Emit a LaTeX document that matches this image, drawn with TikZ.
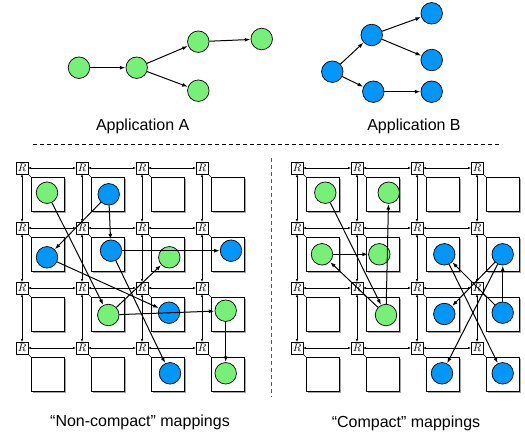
\documentclass[tikz,border=0pt]{standalone}
\usepackage{fontspec}
\setmainfont{Liberation Sans}
\usetikzlibrary{arrows.meta,shadows}
\definecolor{appgreen}{RGB}{118,240,118}
\definecolor{appblue}{RGB}{0,150,250}
\begin{document}
\begin{tikzpicture}[x=1pt,y=-1pt,
  task/.style={circle,draw=black,line width=0.7pt,minimum size=21.5pt,inner sep=0pt},
  ga/.style={task,fill=appgreen},
  gb/.style={task,fill=appblue},
  dep/.style={-{Latex[length=5.5pt,width=4pt]},line width=1pt,shorten >=0.3pt},
  router/.style={draw,fill=white,line width=0.5pt,minimum size=11.5pt,inner sep=0pt,
    font=\fontsize{11}{11}\selectfont,
    drop shadow={shadow xshift=1pt,shadow yshift=-1pt,fill=gray!70,opacity=1}},
  tile/.style={draw,fill=white,line width=0.6pt,minimum width=33pt,minimum height=34pt,inner sep=0pt,
    drop shadow={shadow xshift=1.8pt,shadow yshift=-1.8pt,fill=gray!70,opacity=1}},
  link/.style={{Latex[length=3pt,width=2.4pt]}-{Latex[length=3pt,width=2.4pt]},line width=0.5pt},
  caption/.style={font=\fontsize{16}{19}\selectfont},
  sep/.style={dashed,dash pattern=on 4pt off 3pt,line width=0.6pt}
]
\useasboundingbox (0,0) rectangle (525,439);

% ---- the two task graphs ----
\node[ga] (A1) at (79,67.7) {};
\node[ga] (A2) at (136.7,67.7) {};
\node[ga] (A3) at (198.3,41.7) {};
\node[ga] (A4) at (198.3,90.7) {};
\node[ga] (A5) at (261.7,39) {};
\draw[dep] (A1) -- (A2);
\draw[dep] (A2) -- (A3);
\draw[dep] (A2) -- (A4);
\draw[dep] (A3) -- (A5);

\node[gb] (B1) at (332.3,71.7) {};
\node[gb] (B2) at (371.7,35) {};
\node[gb] (B3) at (373.3,91.7) {};
\node[gb] (B4) at (431.7,13.3) {};
\node[gb] (B5) at (431.7,60) {};
\node[gb] (B6) at (431.7,91.7) {};
\draw[dep] (B1) -- (B2);
\draw[dep] (B1) -- (B3);
\draw[dep] (B2) -- (B4);
\draw[dep] (B2) -- (B5);
\draw[dep] (B3) -- (B6);

\node[caption] (capA) at (142.7,126) {Application A};
\node[caption] (capB) at (414,126) {Application B};

% ---- separators ----
\draw[sep] (33,144) -- (502,144);
\draw[sep,black!65] (271,158) -- (271,397);

% ---- 4x4 meshes of routers and tiles ----
\foreach \g/\xo in {L/22,C/297} {
  \foreach \c in {0,...,3} {
    \foreach \r in {0,...,3} {
      \node[tile] (\g T\c\r) at (\xo+60*\c+25.5,168+60*\r+26) {};
      \node[router] (\g R\c\r) at (\xo+60*\c,168+60*\r) {$R$};
      \draw[line width=0.5pt] (\g R\c\r.south east) -- (\g T\c\r.north west);
    }
  }
  \foreach \c [evaluate=\c as \nx using int(\c+1)] in {0,1,2} {
    \foreach \r in {0,...,3} {
      \draw[link] (\g R\c\r) -- (\g R\nx\r);
      \draw[link] (\g R\r\c) -- (\g R\r\nx);
    }
  }
}

% ---- non-compact placement ----
\node[ga] (La1) at (47,192.7) {};
\node[gb] (Lb1) at (108.7,194.3) {};
\node[gb] (Lb2) at (47,257.3) {};
\node[gb] (Lb3) at (111,250.7) {};
\node[ga] (La4) at (169.3,257.3) {};
\node[gb] (Lb6) at (231,250.7) {};
\node[ga] (La2) at (108.3,315) {};
\node[gb] (Lb4) at (169,312.7) {};
\node[ga] (La3) at (225.7,310.7) {};
\node[gb] (Lb5) at (170,373.3) {};
\node[ga] (La5) at (225.7,373.3) {};
\draw[dep] (La1) -- (La2);
\draw[dep] (La2) -- (La4);
\draw[dep] (La2) -- (La3);
\draw[dep] (La3) -- (La5);
\draw[dep] (Lb1) -- (Lb2);
\draw[dep] (Lb1) -- (Lb3);
\draw[dep] (Lb3) -- (Lb6);
\draw[dep] (Lb2) -- (Lb4);
\draw[dep] (Lb3) -- (Lb5);

% ---- compact placement ----
\node[ga] (Ca1) at (325.3,192.7) {};
\node[ga] (Ca3) at (388.7,192.7) {};
\node[ga] (Ca4) at (322,254.3) {};
\node[ga] (Ca5) at (379.3,254.3) {};
\node[gb] (Cb3) at (444.3,254.3) {};
\node[gb] (Cb2) at (502.7,254.3) {};
\node[ga] (Ca2) at (386,315) {};
\node[gb] (Cb4) at (444.3,314) {};
\node[gb] (Cb1) at (502.7,312.7) {};
\node[gb] (Cb5) at (442,373.3) {};
\node[gb] (Cb6) at (502.7,373.3) {};
\draw[dep] (Ca1) -- (Ca2);
\draw[dep] (Ca2) -- (Ca3);
\draw[dep] (Ca2) -- (Ca4);
\draw[dep] (Ca4) -- (Ca5);
\draw[dep] (Cb1) -- (Cb2);
\draw[dep] (Cb1) -- (Cb3);
\draw[dep] (Cb2) -- (Cb4);
\draw[dep] (Cb2) -- (Cb5);
\draw[dep] (Cb3) -- (Cb6);

\node[caption] (capL) at (140,422.7) {“Non-compact” mappings};
\node[caption] (capC) at (406,423.3) {“Compact” mappings};
\end{tikzpicture}
\end{document}
